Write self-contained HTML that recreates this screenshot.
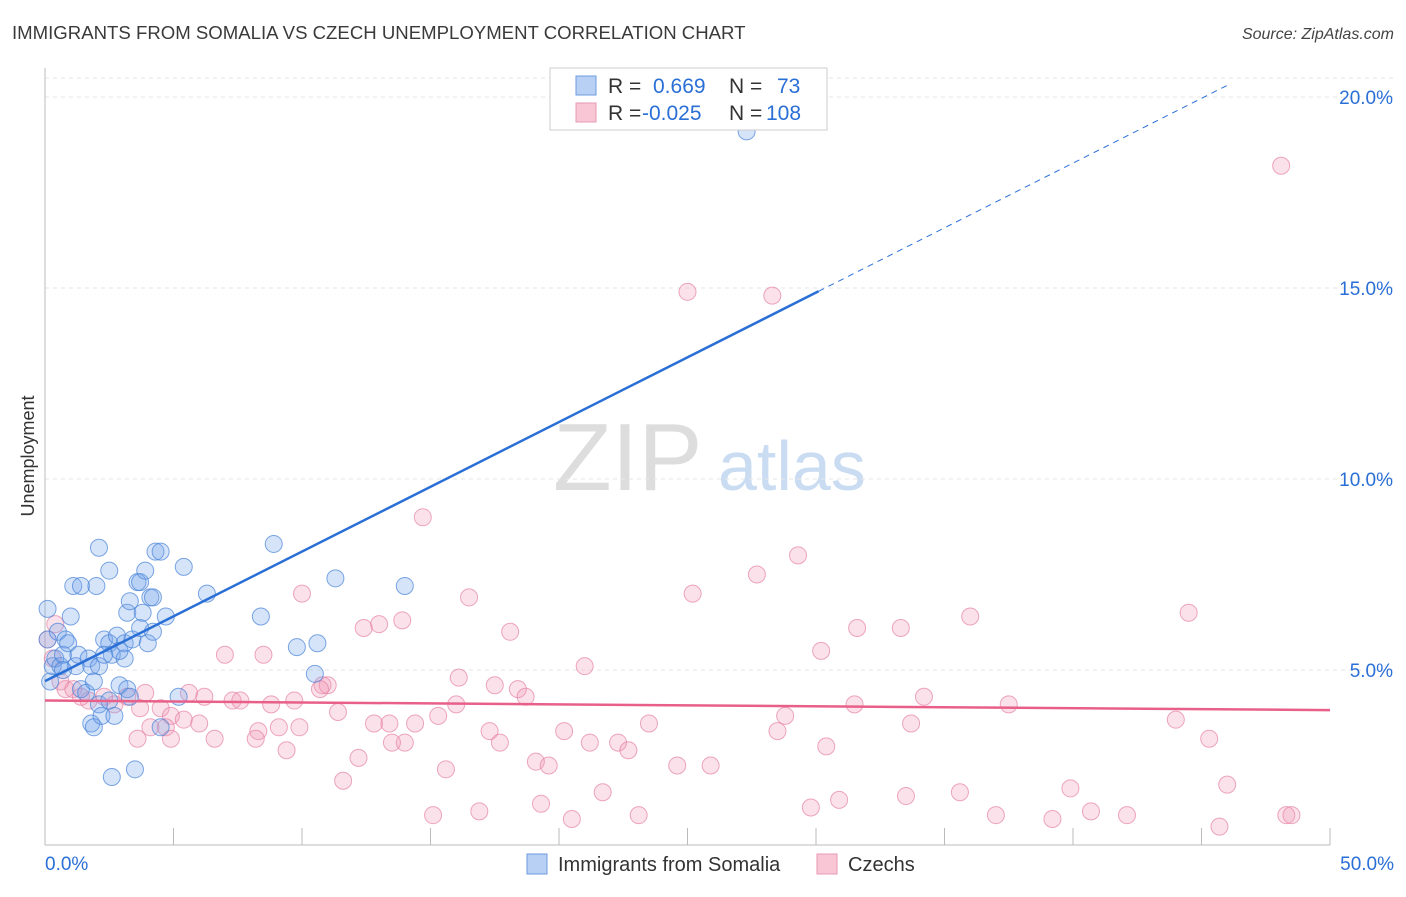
<!DOCTYPE html>
<html><head><meta charset="utf-8"><style>
body{margin:0;background:#fff;font-family:"Liberation Sans",sans-serif;}
svg text{font-family:"Liberation Sans",sans-serif;}
</style></head><body>
<svg id="chart" width="1406" height="892" xmlns="http://www.w3.org/2000/svg">
<text x="12" y="39" font-size="18.6" fill="#3a3a3a">IMMIGRANTS FROM SOMALIA VS CZECH UNEMPLOYMENT CORRELATION CHART</text>
<text x="1394" y="39" font-size="16" fill="#444" text-anchor="end" font-style="italic">Source: ZipAtlas.com</text>
<text x="553" y="490" font-size="96" fill="#ddd" font-family="Liberation Serif,serif">ZIP</text>
<text x="718" y="490" font-size="70" fill="#c9dcf2">atlas</text>
<text transform="translate(34,456) rotate(-90)" font-size="18" fill="#333" text-anchor="middle">Unemployment</text>
<g id="grid"></g><g id="axes"></g><g id="pts"></g><g id="lines"></g>
<g>
<rect x="550" y="68" width="277" height="62" fill="#fff" stroke="#ccc"/>
<rect x="576" y="76" width="20" height="19" fill="#b8d0f3" stroke="#6e9be0"/>
<rect x="576" y="103" width="20" height="19" fill="#f8c6d5" stroke="#e99ab3"/>
<text x="608" y="93" font-size="21" fill="#333">R =</text>
<text x="653" y="93" font-size="21" fill="#2a6fd6">0.669</text>
<text x="729" y="93" font-size="21" fill="#333">N =</text>
<text x="777" y="93" font-size="21" fill="#2a6fd6">73</text>
<text x="608" y="120" font-size="21" fill="#333">R =</text>
<text x="642" y="120" font-size="21" fill="#2a6fd6">-0.025</text>
<text x="729" y="120" font-size="21" fill="#333">N =</text>
<text x="766" y="120" font-size="21" fill="#2a6fd6">108</text>
</g>
<g>
<rect x="527" y="854" width="20" height="20" fill="#b8d0f3" stroke="#6e9be0"/>
<text x="558" y="871" font-size="20" fill="#333">Immigrants from Somalia</text>
<rect x="817" y="854" width="20" height="20" fill="#f8c6d5" stroke="#e99ab3"/>
<text x="848" y="871" font-size="20" fill="#333">Czechs</text>
</g>
</svg>
<script>
const blueX=[27.3,0.1,0.1,0.2,0.3,0.4,0.5,0.6,0.7,0.8,0.9,1.0,1.1,1.2,1.3,1.4,1.4,1.6,1.7,1.8,1.8,1.9,2.0,2.1,2.1,2.2,2.3,2.5,2.5,2.6,2.6,2.7,2.8,2.9,3.1,3.2,3.2,3.3,3.4,3.5,3.6,3.7,3.7,3.8,3.9,4.0,4.1,4.2,4.3,4.2,4.5,4.5,4.7,5.2,5.4,6.3,8.4,8.9,9.8,10.5,10.6,11.3,14.0,3.3,3.1,0.7,2.1,2.9,2.3,1.9,2.5];
const blueY=[19.1,6.6,5.8,4.7,5.1,5.3,6.0,5.1,5.4,5.8,5.7,6.4,7.2,5.1,5.4,7.2,4.5,4.4,5.3,5.1,3.6,3.5,7.2,4.1,8.2,3.8,5.8,5.7,7.6,5.4,2.2,3.8,5.9,4.6,5.7,4.5,6.5,4.3,5.8,2.4,7.3,7.3,6.1,6.5,7.6,5.7,6.9,6.9,8.1,6.0,8.1,3.5,6.4,4.3,7.7,7.0,6.4,8.3,5.6,4.9,5.7,7.4,7.2,6.8,5.3,5.0,5.1,5.5,5.4,4.7,4.2];
const pinkX=[48.1,25.0,28.3,14.7,29.3,27.7,10.0,16.5,25.2,44.5,36.0,13.9,13.0,12.4,31.6,33.3,18.1,30.2,7.0,8.5,21.0,16.1,17.5,18.4,10.8,11.0,18.7,34.2,31.5,37.5,16.0,44.0,28.8,23.5,15.3,13.4,14.4,12.8,11.4,17.3,9.9,33.7,20.2,21.2,22.3,22.7,14.0,13.5,17.7,8.3,9.1,9.4,6.6,8.2,28.5,30.4,45.3,19.1,19.6,25.9,24.6,15.6,12.2,11.6,21.7,35.6,39.9,46.0,30.9,33.5,19.3,16.9,29.8,15.1,20.5,23.1,37.0,39.2,40.7,42.1,45.7,48.3,48.5,0.1,0.3,0.4,0.6,0.8,1.1,1.4,1.7,2.3,2.7,3.2,3.7,3.9,4.5,4.9,5.4,5.6,6.0,6.2,7.3,7.6,8.8,9.7,4.7,3.6,4.1,10.7,4.9];
const pinkY=[18.2,14.9,14.8,9.0,8.0,7.5,7.0,6.9,7.0,6.5,6.4,6.3,6.2,6.1,6.1,6.1,6.0,5.5,5.4,5.4,5.1,4.8,4.6,4.5,4.6,4.6,4.3,4.3,4.1,4.1,4.1,3.7,3.8,3.6,3.8,3.6,3.6,3.6,3.9,3.4,3.5,3.6,3.4,3.1,3.1,2.9,3.1,3.1,3.1,3.4,3.5,2.9,3.2,3.2,3.4,3.0,3.2,2.6,2.5,2.5,2.5,2.4,2.7,2.1,1.8,1.8,1.9,2.0,1.6,1.7,1.5,1.3,1.4,1.2,1.1,1.2,1.2,1.1,1.3,1.2,0.9,1.2,1.2,5.8,5.3,6.2,4.7,4.5,4.5,4.3,4.2,4.3,4.1,4.3,4.0,4.4,4.0,3.8,3.7,4.4,3.6,4.3,4.2,4.2,4.1,4.2,3.5,3.2,3.5,4.5,3.2];
const blueTrend=[4.71,0.339]; // intercept, slope
const pinkTrend=[4.2,-0.005];
const xTicks=[0,5,10,15,20,25,30,35,40,45,50];
const yTicks=[5,10,15,20];
const yTickLabels=["5.0%","10.0%","15.0%","20.0%"];
const xTickLabels=["0.0%","50.0%"];

const NS="http://www.w3.org/2000/svg";
const X=v=>45+v*(1285/50);
const Y=v=>861-v*38.2;
function mk(parent,tag,attrs){const e=document.createElementNS(NS,tag);for(const k in attrs)e.setAttribute(k,attrs[k]);document.getElementById(parent).appendChild(e);return e;}
let e;
e=mk('grid','line',{x1:45,x2:1395,y1:78,y2:78,stroke:'#e6e6e6','stroke-dasharray':'4,4'});


yTicks.forEach((t,i)=>{
 e=mk('grid','line',{x1:45,x2:1395,y1:Y(t),y2:Y(t),stroke:'#e6e6e6','stroke-dasharray':'4,4'});
 
 
 e=mk('grid','text',{x:1393,y:Y(t)+7,'font-size':19,fill:'#2a6fd6','text-anchor':'end'});
 e.textContent=yTickLabels[i];
 
 
});
e=mk('axes','line',{x1:45,x2:45,y1:68,y2:845,stroke:'#bbb'});


e=mk('axes','line',{x1:45,x2:1330,y1:845,y2:845,stroke:'#bbb'});


xTicks.forEach(t=>{
 e=mk('axes','line',{x1:X(t),x2:X(t),y1:828,y2:845,stroke:'#bbb'});
 
 
});
e=mk('axes','text',{x:45,y:870,'font-size':19,fill:'#2a6fd6'});e.textContent=xTickLabels[0];


e=mk('axes','text',{x:1394,y:870,'font-size':19,fill:'#2a6fd6','text-anchor':'end'});e.textContent=xTickLabels[1];


pinkX.forEach((x,i)=>{
 e=mk('pts','circle',{cx:X(x),cy:Y(pinkY[i]),r:8.5,fill:'rgba(242,150,180,0.28)',stroke:'rgba(230,130,165,0.7)','stroke-width':1});
 
 
});
blueX.forEach((x,i)=>{
 e=mk('pts','circle',{cx:X(x),cy:Y(blueY[i]),r:8.5,fill:'rgba(120,165,235,0.3)',stroke:'rgba(70,130,215,0.7)','stroke-width':1});
 
 
});
const bt=x=>blueTrend[0]+blueTrend[1]*x;
const pt=x=>pinkTrend[0]+pinkTrend[1]*x;
e=mk('lines','line',{x1:X(0),y1:Y(bt(0)),x2:X(30.1),y2:Y(bt(30.1)),stroke:'#2a6fd6','stroke-width':2.5});


e=mk('lines','line',{x1:X(30.1),y1:Y(bt(30.1)),x2:X(46),y2:Y(bt(46)),stroke:'#2a6fd6','stroke-width':1,'stroke-dasharray':'6,5'});


e=mk('lines','line',{x1:X(0),y1:Y(pt(0)),x2:X(50),y2:Y(pt(50)),stroke:'#e8608a','stroke-width':2.5});


</script>
</body></html>
